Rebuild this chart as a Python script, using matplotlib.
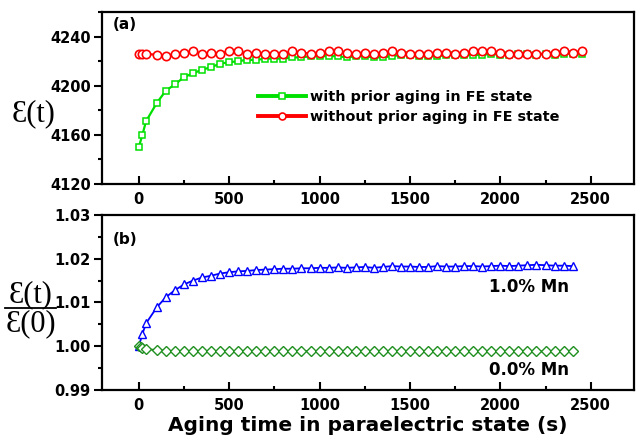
import matplotlib
matplotlib.use('Agg')
import matplotlib.pyplot as plt
from matplotlib.lines import Line2D
from matplotlib.ticker import MultipleLocator

# (a) dielectric constant vs aging time
t_a = [0, 20, 40] + list(range(100, 2451, 50))
eps_with = [4150, 4160, 4171, 4186, 4196, 4201, 4207, 4210, 4213, 4215,
            4218, 4219, 4220, 4221, 4221, 4222, 4222, 4222, 4223, 4223,
            4224, 4224, 4224, 4224, 4223, 4224, 4224, 4223, 4223, 4224,
            4225, 4225, 4224, 4224, 4224, 4225, 4225, 4225, 4225, 4225,
            4226, 4225, 4225, 4226, 4226, 4225, 4226, 4225, 4226, 4226,
            4226]
eps_without = [4226, 4226, 4226, 4225, 4224, 4226, 4227, 4228, 4226, 4227,
               4226, 4228, 4228, 4226, 4227, 4226, 4226, 4226, 4228, 4227,
               4226, 4227, 4228, 4228, 4227, 4226, 4227, 4226, 4227, 4228,
               4227, 4226, 4226, 4226, 4227, 4227, 4226, 4227, 4228, 4228,
               4228, 4227, 4226, 4226, 4226, 4226, 4226, 4227, 4228, 4227,
               4228]

# (b) normalized
t_mn1 = [0, 20, 40] + list(range(100, 2401, 50))
r_mn1 = [1.0000, 1.0028, 1.0052, 1.0089, 1.0112, 1.0128, 1.0141, 1.0150, 1.0157, 1.0161,
         1.0166, 1.0169, 1.0171, 1.0172, 1.0174, 1.0175, 1.0176, 1.0177, 1.0177, 1.0178,
         1.0178, 1.0179, 1.0179, 1.0180, 1.0179, 1.0180, 1.0181, 1.0179, 1.0181, 1.0183,
         1.0182, 1.0182, 1.0181, 1.0181, 1.0183, 1.0182, 1.0182, 1.0183, 1.0183, 1.0182,
         1.0183, 1.0184, 1.0183, 1.0184, 1.0185, 1.0186, 1.0185, 1.0184, 1.0184, 1.0183]
t_mn0 = [0, 10, 20, 40] + list(range(100, 2401, 50))
r_mn0 = [1.0000, 0.9997, 0.9995, 0.9993, 0.9991, 0.9989, 0.9988, 0.9988, 0.9988, 0.9989,
         0.9988, 0.9988, 0.9989, 0.9988, 0.9989, 0.9988, 0.9988, 0.9989, 0.9989, 0.9988,
         0.9988, 0.9989, 0.9988, 0.9988, 0.9989, 0.9989, 0.9988, 0.9988, 0.9989, 0.9989,
         0.9989, 0.9988, 0.9988, 0.9989, 0.9989, 0.9988, 0.9989, 0.9988, 0.9989, 0.9988,
         0.9988, 0.9989, 0.9988, 0.9988, 0.9989, 0.9988, 0.9988, 0.9988, 0.9989, 0.9988,
         0.9988]

plt.rcParams['font.family'] = 'DejaVu Sans'
plt.rcParams['font.weight'] = 'bold'

fig = plt.figure(figsize=(6.36, 4.45), dpi=100)
ax1 = fig.add_axes([0.160, 0.587, 0.837, 0.386])
ax2 = fig.add_axes([0.160, 0.124, 0.837, 0.393])

green = '#00e000'
ax1.plot(t_a, eps_with, color=green, lw=1.6, marker='s', ms=5, mfc='white', mec=green, mew=1.1)
ax1.plot(t_a, eps_without, color='#ff0000', lw=1.6, marker='o', ms=6, mfc='white', mec='#ff0000', mew=1.2)
ax1.set_ylim(4120, 4260)
ax1.yaxis.set_major_locator(MultipleLocator(40))
ax1.yaxis.set_minor_locator(MultipleLocator(20))

handles = [Line2D([], [], color=green, lw=2.8, marker='s', ms=4.5, mfc='white', mec=green, mew=1.1),
           Line2D([], [], color='#ff0000', lw=2.8, marker='o', ms=5, mfc='white', mec='#ff0000', mew=1.2)]
ax1.legend(handles, ['with prior aging in FE state', 'without prior aging in FE state'],
           loc='upper left', bbox_to_anchor=(0.27, 0.62), frameon=False, handlelength=3.3,
           handletextpad=0.3, labelspacing=0.4, fontsize=10.4)
ax1.text(0.02, 0.97, '(a)', transform=ax1.transAxes, fontsize=11, fontweight='bold', va='top')

ax2.plot(t_mn1, r_mn1, color='#0000ff', lw=1.3, marker='^', ms=6, mfc='white', mec='#0000ff', mew=1.0)
ax2.plot(t_mn0, r_mn0, color='#1f8f1f', lw=1.3, marker='D', ms=5, mfc='white', mec='#1f8f1f', mew=1.0)
ax2.set_ylim(0.99, 1.03)
ax2.yaxis.set_major_locator(MultipleLocator(0.01))
ax2.yaxis.set_minor_locator(MultipleLocator(0.005))
ax2.yaxis.set_major_formatter(matplotlib.ticker.FormatStrFormatter('%.2f'))
ax2.text(0.02, 0.90, '(b)', transform=ax2.transAxes, fontsize=11, fontweight='bold', va='top')
ax2.text(2160, 1.0135, '1.0% Mn', fontsize=12, fontweight='bold', ha='center', va='center')
ax2.text(2160, 0.9945, '0.0% Mn', fontsize=12, fontweight='bold', ha='center', va='center')
ax2.set_xlabel('Aging time in paraelectric state (s)', fontsize=14.5, fontweight='bold', labelpad=2)

for ax in (ax1, ax2):
    ax.set_xlim(-205, 2740)
    ax.xaxis.set_major_locator(MultipleLocator(500))
    ax.xaxis.set_minor_locator(MultipleLocator(250))
    for s in ax.spines.values():
        s.set_linewidth(1.6)
    ax.tick_params(axis='x', which='major', direction='in', length=6, width=1.5, labelsize=10.5, pad=6)
    ax.tick_params(axis='x', which='minor', direction='in', length=3, width=1.5)
    ax.tick_params(axis='y', which='major', direction='out', length=6, width=1.5, labelsize=10.5, pad=2)
    ax.tick_params(axis='y', which='minor', direction='out', length=3, width=1.5)
    for lab in ax.get_xticklabels() + ax.get_yticklabels():
        lab.set_fontweight('bold')

serif = ['Liberation Serif', 'DejaVu Serif']
fig.text(0.053, 0.744, '\u0190(t)', fontsize=22, family=serif, fontweight='normal', ha='center', va='center')
fig.text(0.048, 0.337, '\u0190(t)', fontsize=22, family=serif, fontweight='normal', ha='center', va='center')
fig.text(0.048, 0.273, '\u0190(0)', fontsize=22, family=serif, fontweight='normal', ha='center', va='center')
fig.add_artist(Line2D([0.008, 0.088], [0.308, 0.308], color='black', lw=1.3, transform=fig.transFigure))

fig.savefig('out.png', dpi=100)
